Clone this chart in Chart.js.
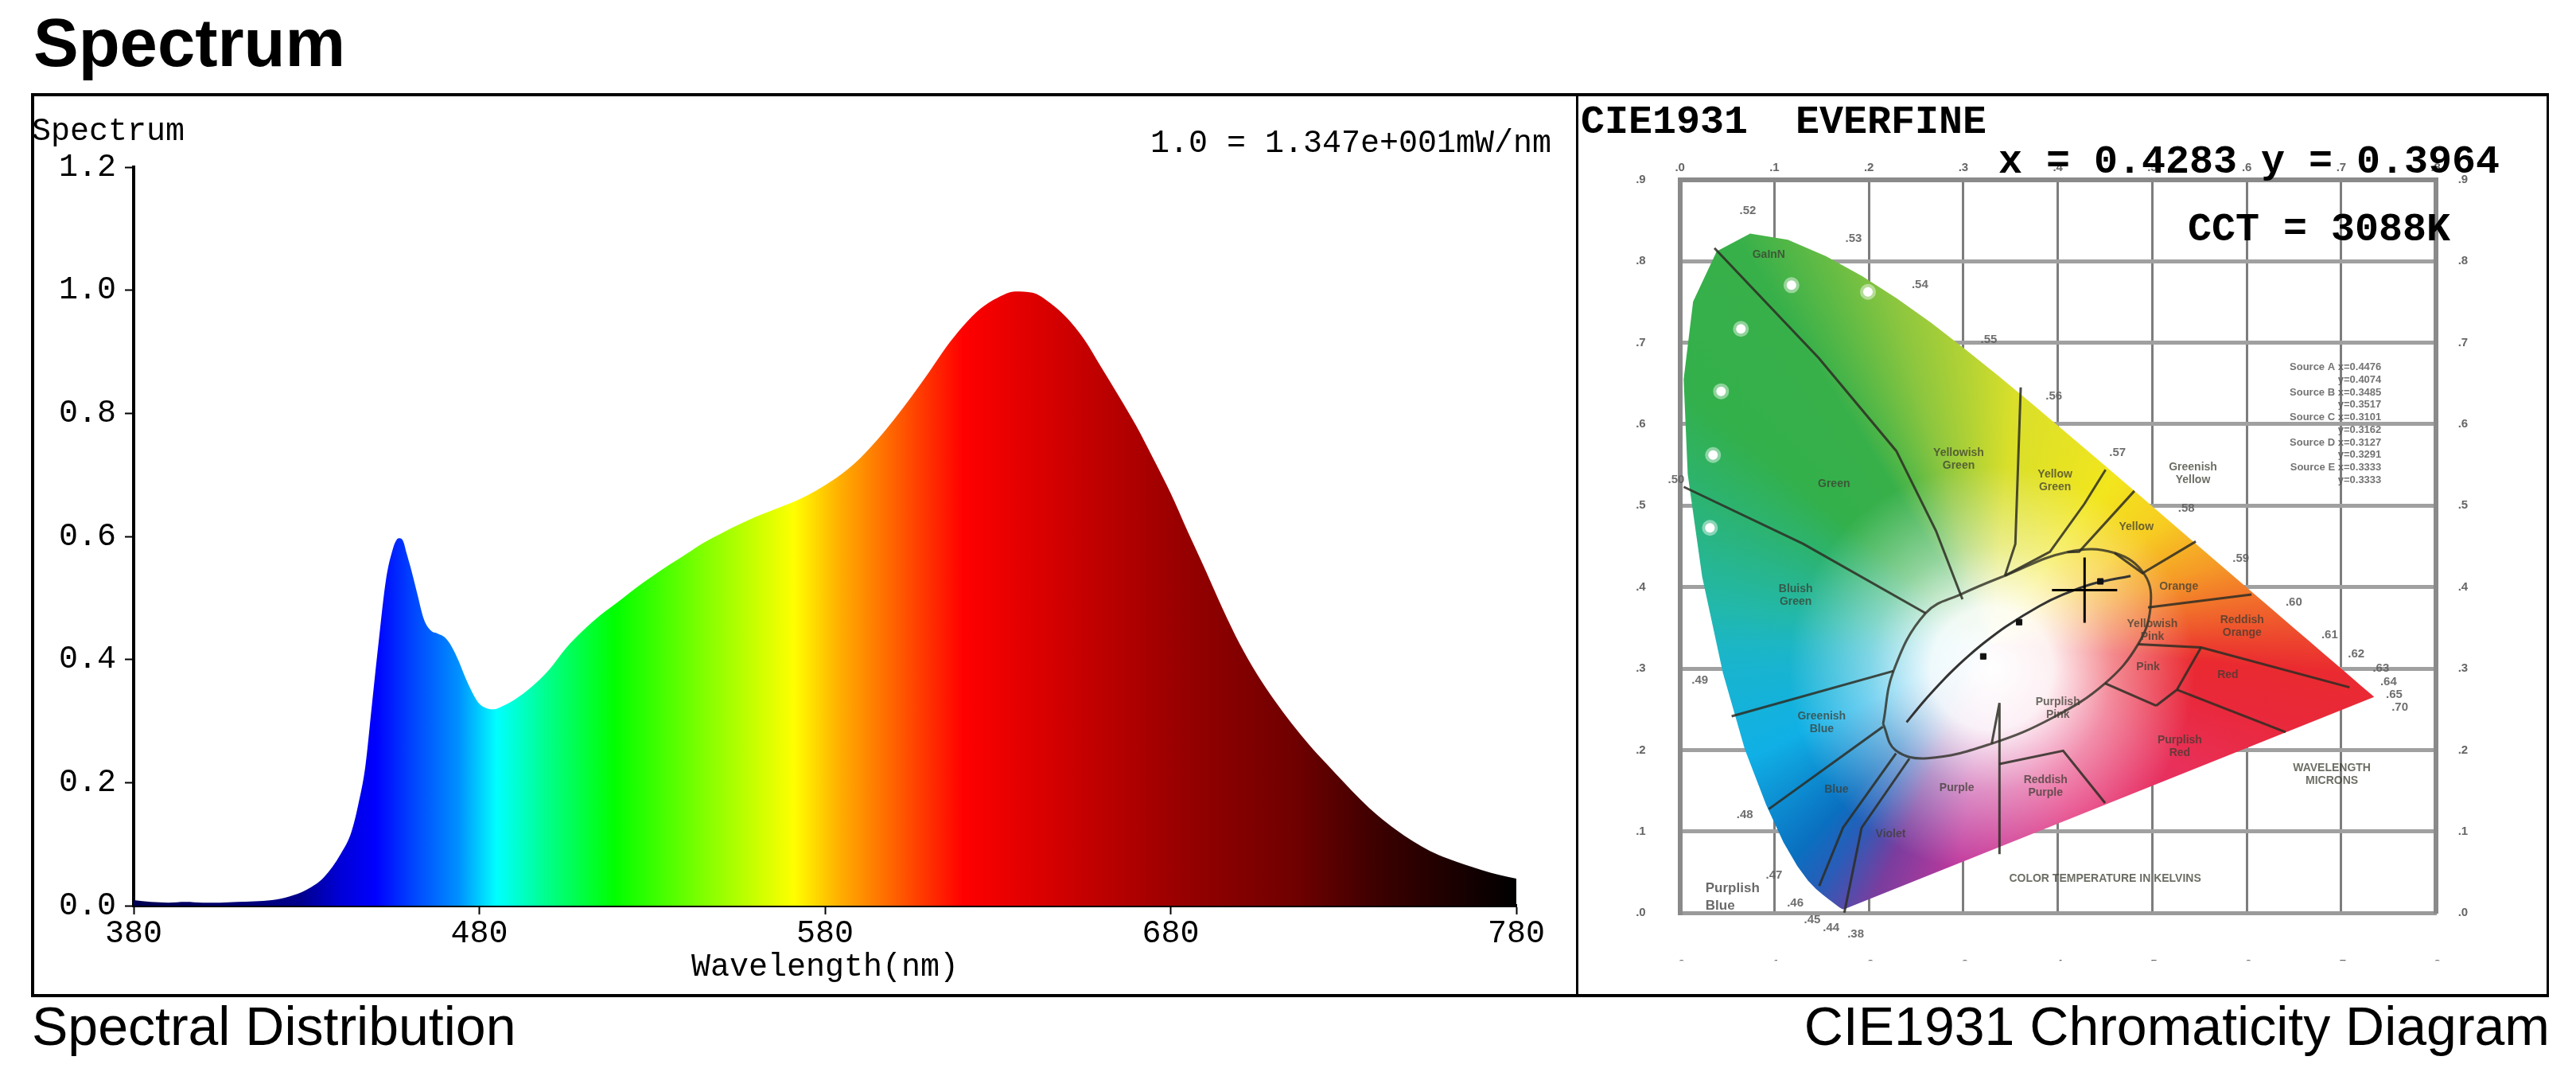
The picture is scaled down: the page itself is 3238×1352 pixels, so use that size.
<!DOCTYPE html>
<html>
<head>
<meta charset="utf-8">
<title>Spectrum</title>
<script src="https://cdn.jsdelivr.net/npm/chart.js@4.4.1/dist/chart.umd.min.js"></script>
<style>
  html, body { margin: 0; padding: 0; background: #fff; }
  body { position: relative; width: 3238px; height: 1352px; overflow: hidden; }
  .txt { position: absolute; white-space: pre; line-height: 1; color: #000; }
  .sans { font-family: "Liberation Sans", Arial, sans-serif; }
  .mono { font-family: "Liberation Mono", "Courier New", monospace; }
  #pageTitle { left: 42px; top: 11px; font-size: 85px; font-weight: bold; }
  #frame { position: absolute; left: 39px; top: 117px; width: 3165px; height: 1136px;
           border: solid #000; border-width: 4px 3px 4px 4px; box-sizing: border-box; }
  #divider { position: absolute; left: 1981px; top: 117px; width: 3px; height: 1136px; background: #000; }
  canvas { position: absolute; }
  #spec { left: 0; top: 0; }
  #cie { left: 1984px; top: 119px; }
  #specLabel { left: 40px; top: 146px; font-size: 40px; }
  #scaleNote { left: 1446px; top: 161px; font-size: 40px; }
  #cieHead { left: 1987px; top: 129px; font-size: 50px; font-weight: bold; }
  #cieXY { left: 2512px; top: 179px; font-size: 50px; font-weight: bold; }
  #cieCCT { left: 2750px; top: 264px; font-size: 50px; font-weight: bold; }
  #capLeft { left: 40px; top: 1255px; font-size: 68px; }
  #capRight { right: 33px; top: 1255px; font-size: 68px; }
</style>
</head>
<body>
<div id="pageTitle" class="txt sans">Spectrum</div>
<div id="frame"></div>
<div id="divider"></div>
<canvas id="spec" width="1982" height="1352"></canvas>
<canvas id="cie" width="1218" height="1130"></canvas>
<div id="specLabel" class="txt mono">Spectrum</div>
<div id="scaleNote" class="txt mono">1.0 = 1.347e+001mW/nm</div>
<div id="cieHead" class="txt mono">CIE1931  EVERFINE</div>
<div id="cieXY" class="txt mono">x = 0.4283 y = 0.3964</div>
<div id="cieCCT" class="txt mono">CCT = 3088K</div>
<div id="capLeft" class="txt sans">Spectral Distribution</div>
<div id="capRight" class="txt sans">CIE1931 Chromaticity Diagram</div>

<script>
// spectral distribution, relative values
const specNm = [380, 385, 390, 395, 400, 405, 410, 415, 420, 425, 430, 435, 440, 443, 445, 447, 449, 451,
  453, 455, 456, 457, 458, 459, 460, 462, 464, 466, 468, 470, 472, 474, 476, 478, 480, 482, 484, 487,
  490, 495, 500, 505, 510, 515, 520, 525, 530, 535, 540, 545, 550, 555, 560, 565, 570, 575, 580, 585,
  590, 595, 600, 605, 610, 615, 620, 625, 630, 635, 640, 645, 650, 655, 660, 665, 670, 675, 680, 685,
  690, 695, 700, 705, 710, 715, 720, 725, 730, 735, 740, 745, 750, 755, 760, 765, 770, 775, 780];
const specVal = [0.009, 0.006, 0.005, 0.006, 0.005, 0.005, 0.006, 0.007, 0.009, 0.015, 0.026, 0.046, 0.085,
  0.12, 0.165, 0.225, 0.33, 0.435, 0.53, 0.58, 0.594, 0.597, 0.592, 0.572, 0.552, 0.508, 0.465, 0.447,
  0.442, 0.436, 0.421, 0.398, 0.37, 0.346, 0.328, 0.321, 0.319, 0.325, 0.334, 0.355, 0.382, 0.418,
  0.447, 0.472, 0.493, 0.515, 0.535, 0.554, 0.572, 0.59, 0.605, 0.619, 0.632, 0.643, 0.654, 0.667,
  0.683, 0.702, 0.726, 0.756, 0.79, 0.827, 0.866, 0.907, 0.942, 0.97, 0.988, 0.998, 0.996, 0.98, 0.955,
  0.92, 0.874, 0.828, 0.78, 0.726, 0.67, 0.607, 0.546, 0.483, 0.425, 0.376, 0.334, 0.296, 0.262, 0.231,
  0.201, 0.172, 0.146, 0.124, 0.105, 0.089, 0.077, 0.067, 0.058, 0.05, 0.044];

// colour of the fill along the wavelength axis
const specFillStops = [[380, '#000050'], [428, '#00008c'], [440, '#0000d8'], [450, '#0000ff'],
  [460, '#0040ff'], [474, '#0090ff'], [485, '#00ffff'], [501, '#00ff80'], [519, '#00ff00'],
  [548, '#90ff00'], [571, '#ffff00'], [584, '#ffb000'], [597, '#ff7000'], [608, '#ff3a00'],
  [620, '#ff0000'], [663, '#b80000'], [683, '#980000'], [717, '#6e0000'], [740, '#3c0000'],
  [780, '#000000']];

// CIE 1931 spectral locus
const locusX = [0.1741, 0.1740, 0.1738, 0.1736, 0.1733, 0.1730, 0.1726, 0.1721, 0.1714, 0.1703, 0.1689,
  0.1669, 0.1644, 0.1611, 0.1566, 0.1510, 0.1440, 0.1355, 0.1241, 0.1096, 0.0913, 0.0687, 0.0454,
  0.0235, 0.0082, 0.0039, 0.0139, 0.0389, 0.0743, 0.1142, 0.1547, 0.1929, 0.2296, 0.2658, 0.3016,
  0.3373, 0.3731, 0.4087, 0.4441, 0.4788, 0.5125, 0.5448, 0.5752, 0.6029, 0.6270, 0.6482, 0.6658,
  0.6801, 0.6915, 0.7006, 0.7079, 0.7140, 0.7190, 0.7230, 0.7260, 0.7300, 0.7320, 0.7334, 0.7347];
const locusY = [0.0050, 0.0050, 0.0049, 0.0049, 0.0048, 0.0048, 0.0048, 0.0048, 0.0051, 0.0058, 0.0069,
  0.0086, 0.0109, 0.0138, 0.0177, 0.0227, 0.0297, 0.0399, 0.0578, 0.0868, 0.1327, 0.2007, 0.2950,
  0.4127, 0.5384, 0.6548, 0.7502, 0.8120, 0.8338, 0.8262, 0.8059, 0.7816, 0.7543, 0.7243, 0.6923,
  0.6589, 0.6245, 0.5896, 0.5547, 0.5202, 0.4866, 0.4544, 0.4242, 0.3965, 0.3725, 0.3514, 0.3340,
  0.3197, 0.3083, 0.2993, 0.2920, 0.2859, 0.2809, 0.2770, 0.2740, 0.2700, 0.2680, 0.2666, 0.2653];

const planckX = [0.2399, 0.2565, 0.2807, 0.2952, 0.3064, 0.3221, 0.3451, 0.3805, 0.4053, 0.4369, 0.4770];
const planckY = [0.2342, 0.2577, 0.2883, 0.3048, 0.3166, 0.3318, 0.3516, 0.3768, 0.3907, 0.4041, 0.4137];

const measuredX = [0.4283];
const measuredY = [0.3964];

const dotX = [0.118, 0.199, 0.0645, 0.0435, 0.035, 0.0317];
const dotY = [0.7705, 0.7623, 0.7168, 0.6403, 0.5621, 0.4727];
const sourceMarkX = [0.445, 0.359, 0.321];
const sourceMarkY = [0.407, 0.357, 0.315];

// colour name boundaries drawn in the diagram
const regionLines = [
  [[0.0365, 0.816], [0.147, 0.681], [0.229, 0.567], [0.271, 0.469], [0.299, 0.385]],
  [[0.004, 0.523], [0.1305, 0.453], [0.26, 0.368]],
  [[0.3607, 0.645], [0.355, 0.453], [0.344, 0.414]],
  [[0.4505, 0.544], [0.428, 0.502], [0.3916, 0.4433], [0.344, 0.414]],
  [[0.481, 0.518], [0.4225, 0.4435], [0.41, 0.443]],
  [[0.546, 0.456], [0.4896, 0.417], [0.46, 0.442]],
  [[0.605, 0.391], [0.4955, 0.375]],
  [[0.7087, 0.277], [0.5516, 0.326], [0.485, 0.33]],
  [[0.5516, 0.326], [0.526, 0.274], [0.504, 0.2545]],
  [[0.526, 0.274], [0.641, 0.222]],
  [[0.45, 0.282], [0.504, 0.2545]],
  [[0.0547, 0.2415], [0.226, 0.297]],
  [[0.094, 0.1276], [0.2147, 0.2285]],
  [[0.1474, 0.0332], [0.1726, 0.1048], [0.2287, 0.196]],
  [[0.174, 0.0006], [0.1923, 0.1048], [0.2428, 0.1895]],
  [[0.3382, 0.0723], [0.3382, 0.2578], [0.33, 0.208]],
  [[0.338, 0.183], [0.4056, 0.1992], [0.45, 0.135]]
];
const whiteBoundary = [[0.215, 0.232], [0.226, 0.297], [0.26, 0.368], [0.299, 0.392], [0.344, 0.414],
  [0.41, 0.443], [0.46, 0.442], [0.492, 0.415], [0.498, 0.375], [0.485, 0.33], [0.45, 0.282],
  [0.395, 0.24], [0.33, 0.208], [0.262, 0.19], [0.228, 0.2], [0.215, 0.232]];

const locusLabels = [['.52', 0.0718, 0.8616], ['.53', 0.1838, 0.8274], ['.54', 0.254, 0.7705],
  ['.55', 0.327, 0.7037], ['.56', 0.3958, 0.6338], ['.57', 0.4632, 0.5651], ['.58', 0.536, 0.497],
  ['.59', 0.5937, 0.4352], ['.60', 0.6498, 0.3815], ['.61', 0.6877, 0.3408], ['.62', 0.7158, 0.318],
  ['.63', 0.742, 0.3], ['.64', 0.75, 0.284], ['.65', 0.756, 0.268], ['.70', 0.762, 0.252],
  ['.50', -0.004, 0.532], ['.49', 0.021, 0.2855], ['.48', 0.0687, 0.121], ['.47', 0.0996, 0.0462],
  ['.46', 0.122, 0.012], ['.45', 0.14, -0.008], ['.44', 0.16, -0.018], ['.38', 0.186, -0.026]];

const regionNames = [['GaInN', 0.094, 0.808], ['Green', 0.163, 0.527], ['Yellowish\nGreen', 0.295, 0.557],
  ['Yellow\nGreen', 0.397, 0.53], ['Bluish\nGreen', 0.1225, 0.39], ['Greenish\nYellow', 0.543, 0.539],
  ['Yellow', 0.483, 0.474], ['Orange', 0.528, 0.401], ['Reddish\nOrange', 0.595, 0.352],
  ['Yellowish\nPink', 0.5, 0.347], ['Pink', 0.4955, 0.302], ['Red', 0.58, 0.292],
  ['Purplish\nRed', 0.529, 0.204], ['Reddish\nPurple', 0.387, 0.155], ['Purple', 0.293, 0.1536],
  ['Purplish\nPink', 0.4, 0.251], ['Violet', 0.223, 0.0967], ['Blue', 0.1656, 0.152],
  ['Greenish\nBlue', 0.15, 0.2334], ['COLOR TEMPERATURE IN KELVINS', 0.45, 0.042],
  ['WAVELENGTH\nMICRONS', 0.69, 0.17]];
const cornerName = ['Purplish', 'Blue'];

const sourceTable = ['Source A x=0.4476', 'y=0.4074', 'Source B x=0.3485', 'y=0.3517',
  'Source C x=0.3101', 'y=0.3162', 'Source D x=0.3127', 'y=0.3291', 'Source E x=0.3333', 'y=0.3333'];

// hue around the white point (fraction of a turn starting at the left)
const cieHueStops = [[0, '#1cb6c4'], [0.022, '#22b8aa'], [0.11, '#33b04b'], [0.161, '#38b04a'],
  [0.206, '#8cc63f'], [0.264, '#d9df2a'], [0.35, '#f2e61d'], [0.403, '#f7cc22'], [0.446, '#f59a27'],
  [0.486, '#ef5a2c'], [0.513, '#ea2a30'], [0.54, '#e9283a'], [0.592, '#e8305a'], [0.682, '#e3307a'],
  [0.774, '#c0389c'], [0.819, '#7a3d9e'], [0.847, '#2a5cb8'], [0.869, '#0a6fc0'], [0.931, '#10b0e6'],
  [0.983, '#18b4d0'], [1, '#1cb6c4']];

Chart.defaults.font.family = '"Liberation Mono", "Courier New", monospace';
Chart.defaults.color = '#000';

const toPoints = (xs, ys) => xs.map((x, i) => ({ x: x, y: ys[i] }));
const pairPoints = (pairs) => pairs.map((p) => ({ x: p[0], y: p[1] }));

const spectrumFill = (context) => {
  const chart = context.chart;
  if (!chart.chartArea) {
    return 'rgba(0,0,0,0)';
  }
  const xs = chart.scales.x;
  const g = chart.ctx.createLinearGradient(xs.getPixelForValue(380), 0, xs.getPixelForValue(780), 0);
  for (const [nm, col] of specFillStops) {
    g.addColorStop((nm - 380) / 400, col);
  }
  return g;
};

const monoFont = { family: '"Liberation Mono", "Courier New", monospace', size: 40 };
const axisGrid = { drawOnChartArea: false, drawTicks: true, tickLength: 11, tickWidth: 2, tickColor: '#000', color: '#000' };

new Chart(document.getElementById('spec'), {
  type: 'line',
  data: {
    datasets: [{
      data: toPoints(specNm, specVal),
      fill: 'origin',
      backgroundColor: spectrumFill,
      borderColor: 'rgba(0,0,0,0)',
      borderWidth: 0,
      pointRadius: 0,
      cubicInterpolationMode: 'monotone'
    }]
  },
  options: {
    responsive: false,
    animation: false,
    devicePixelRatio: 1,
    layout: { padding: { left: 40, right: 76, top: 210, bottom: 0 } },
    plugins: { legend: { display: false }, tooltip: { enabled: false } },
    scales: {
      x: {
        type: 'linear',
        min: 380,
        max: 780,
        ticks: { stepSize: 100, font: monoFont, color: '#000', padding: 0, maxRotation: 0 },
        grid: axisGrid,
        border: { display: true, color: '#000', width: 4 },
        title: { display: true, text: 'Wavelength(nm)', font: monoFont, color: '#000', padding: { top: 0, bottom: 113 } },
        afterFit: (scale) => { scale.height = 214; }
      },
      y: {
        min: 0,
        max: 1.2,
        ticks: { stepSize: 0.2, font: monoFont, color: '#000', padding: 11, callback: (v) => Number(v).toFixed(1) },
        grid: axisGrid,
        border: { display: true, color: '#000', width: 4 },
        afterFit: (scale) => { scale.width = 128; }
      }
    }
  }
});

// ---------- CIE 1931 diagram ----------
const hueFill = (context) => {
  const chart = context.chart;
  if (!chart.chartArea) {
    return 'rgba(0,0,0,0)';
  }
  const cx = chart.scales.x.getPixelForValue(0.33);
  const cy = chart.scales.y.getPixelForValue(0.33);
  const g = chart.ctx.createConicGradient(Math.PI, cx, cy);
  for (const [f, col] of cieHueStops) {
    g.addColorStop(f, col);
  }
  return g;
};

const whiteFill = (context) => {
  const chart = context.chart;
  if (!chart.chartArea) {
    return 'rgba(0,0,0,0)';
  }
  const cx = chart.scales.x.getPixelForValue(0.33);
  const cy = chart.scales.y.getPixelForValue(0.30);
  const g = chart.ctx.createRadialGradient(cx, cy, 0, cx, cy, 255);
  g.addColorStop(0, 'rgba(255,255,255,1)');
  g.addColorStop(0.3, 'rgba(255,255,255,0.93)');
  g.addColorStop(0.6, 'rgba(255,255,255,0.45)');
  g.addColorStop(1, 'rgba(255,255,255,0)');
  return g;
};

const cieText = {
  id: 'cieText',
  afterDatasetsDraw(chart) {
    const { ctx } = chart;
    const sx = chart.scales.x;
    const sy = chart.scales.y;
    ctx.save();
    ctx.textAlign = 'center';
    ctx.textBaseline = 'middle';

    ctx.font = 'bold 15px "Liberation Sans"';
    ctx.fillStyle = 'rgba(95,95,95,0.9)';
    for (const [t, x, y] of locusLabels) {
      ctx.fillText(t, sx.getPixelForValue(x), sy.getPixelForValue(y));
    }

    ctx.font = 'bold 14px "Liberation Sans"';
    ctx.fillStyle = 'rgba(60,60,50,0.75)';
    for (const [t, x, y] of regionNames) {
      const lines = t.split('\n');
      lines.forEach((line, i) => {
        ctx.fillText(line, sx.getPixelForValue(x), sy.getPixelForValue(y) + (i - (lines.length - 1) / 2) * 16);
      });
    }

    ctx.font = 'bold 17px "Liberation Sans"';
    ctx.fillStyle = 'rgba(80,80,80,0.85)';
    ctx.textAlign = 'left';
    cornerName.forEach((line, i) => {
      ctx.fillText(line, sx.getPixelForValue(0.027), sy.getPixelForValue(0.03) + i * 22);
    });

    ctx.font = 'bold 13px "Liberation Sans"';
    ctx.fillStyle = 'rgba(90,90,90,0.85)';
    ctx.textAlign = 'right';
    sourceTable.forEach((line, i) => {
      ctx.fillText(line, sx.getPixelForValue(0.7424), sy.getPixelForValue(0.6695) + i * 15.7);
    });
    ctx.restore();
  }
};

const cieTickFont = { family: '"Liberation Sans", Arial, sans-serif', size: 15, weight: 'bold' };
const cieTick = (v) => '.' + Math.round(v * 10);
const rulerBorder = { display: true, color: '#8a8a8a', width: 6 };

const cieLineSets = regionLines.map((pts) => ({
  data: pairPoints(pts),
  showLine: true,
  borderColor: 'rgba(45,45,35,0.85)',
  borderWidth: 3,
  pointRadius: 0,
  fill: false,
  order: 3
}));

new Chart(document.getElementById('cie'), {
  type: 'scatter',
  data: {
    datasets: [
      {
        data: toPoints(measuredX, measuredY),
        pointStyle: 'cross',
        pointRadius: 41,
        pointBorderWidth: 3,
        pointBorderColor: '#000',
        order: 0
      },
      {
        data: toPoints(dotX, dotY),
        pointRadius: 6,
        pointBackgroundColor: '#fff',
        pointBorderColor: 'rgba(255,255,255,0.45)',
        pointBorderWidth: 8,
        order: 1
      },
      {
        data: toPoints(sourceMarkX, sourceMarkY),
        pointStyle: 'rect',
        pointRadius: 5,
        pointBackgroundColor: '#111',
        pointBorderColor: '#111',
        order: 1
      },
      {
        data: toPoints(planckX, planckY),
        showLine: true,
        borderColor: '#333',
        borderWidth: 3,
        pointRadius: 0,
        tension: 0.3,
        fill: false,
        order: 2
      },
      {
        data: pairPoints(whiteBoundary),
        showLine: true,
        borderColor: 'rgba(45,45,35,0.8)',
        borderWidth: 3,
        pointRadius: 0,
        tension: 0.4,
        fill: false,
        order: 3
      },
      ...cieLineSets,
      {
        data: toPoints(locusX.concat([locusX[0]]), locusY.concat([locusY[0]])),
        showLine: true,
        borderWidth: 0,
        borderColor: 'rgba(0,0,0,0)',
        pointRadius: 0,
        fill: 'shape',
        backgroundColor: whiteFill,
        order: 8
      },
      {
        data: toPoints(locusX.concat([locusX[0]]), locusY.concat([locusY[0]])),
        showLine: true,
        borderWidth: 0,
        borderColor: 'rgba(0,0,0,0)',
        pointRadius: 0,
        fill: 'shape',
        backgroundColor: hueFill,
        order: 9
      }
    ]
  },
  options: {
    responsive: false,
    animation: false,
    devicePixelRatio: 1,
    layout: { padding: { left: 67.7, right: 80.3, top: 66.7, bottom: 41.7 } },
    plugins: { legend: { display: false }, tooltip: { enabled: false } },
    scales: {
      x: {
        type: 'linear', position: 'bottom', min: 0, max: 0.8,
        ticks: { stepSize: 0.1, font: cieTickFont, color: '#666', padding: 56, callback: cieTick },
        grid: { color: '#7d7d7d', lineWidth: 3, drawTicks: false },
        border: { display: true, color: '#9a9a9a', width: 5 },
        afterFit: (scale) => { scale.height = 60; }
      },
      xTop: {
        type: 'linear', position: 'top', min: 0, max: 0.8,
        ticks: { stepSize: 0.1, font: cieTickFont, color: '#666', padding: 6, callback: cieTick },
        grid: { display: false, drawTicks: false },
        border: rulerBorder,
        afterFit: (scale) => { scale.height = 40; }
      },
      y: {
        type: 'linear', position: 'left', min: 0, max: 0.9,
        ticks: { stepSize: 0.1, font: cieTickFont, color: '#666', padding: 43, callback: cieTick },
        grid: { color: '#a0a0a0', lineWidth: 5, drawTicks: false },
        border: rulerBorder,
        afterFit: (scale) => { scale.width = 60; }
      },
      yRight: {
        type: 'linear', position: 'right', min: 0, max: 0.9,
        ticks: { stepSize: 0.1, font: cieTickFont, color: '#666', padding: 28, callback: cieTick },
        grid: { display: false, drawTicks: false },
        border: rulerBorder,
        afterFit: (scale) => { scale.width = 60; }
      }
    }
  },
  plugins: [cieText]
});
</script>
</body>
</html>
